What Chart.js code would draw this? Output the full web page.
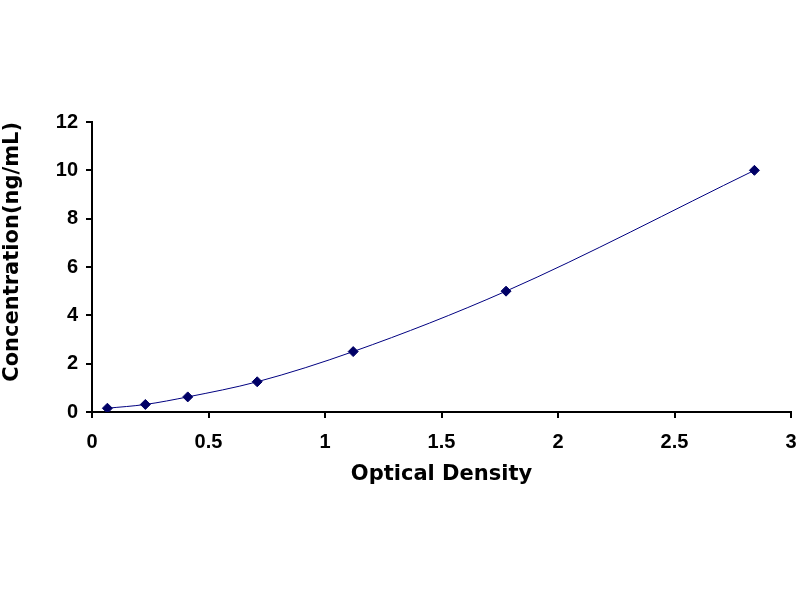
<!DOCTYPE html>
<html>
<head>
<meta charset="utf-8">
<script src="https://cdn.jsdelivr.net/npm/chart.js@4/dist/chart.umd.min.js"></script>
<style>
  html, body { margin: 0; padding: 0; background: #fff; }
  canvas { display: block; }
</style>
</head>
<body>
<canvas id="chart" width="800" height="600"></canvas>
<script>
// standard curve: optical density vs concentration
var od = [0.066, 0.229, 0.411, 0.709, 1.121, 1.777, 2.843];
var conc = [0.156, 0.312, 0.625, 1.25, 2.5, 5, 10];
var xTicks = [0, 0.5, 1, 1.5, 2, 2.5, 3];
var yTicks = [0, 2, 4, 6, 8, 10, 12];

var points = od.map(function (x, i) { return {x: x, y: conc[i]}; });

var tickFont = {family: 'Liberation Sans, Arial, sans-serif', size: 20, weight: 'bold', lineHeight: 1.2};
var titleFont = {family: 'DejaVu Sans, sans-serif', size: 21, weight: 'bold', lineHeight: 1.2};

function plain(v) { return String(v); }

var ctx = document.getElementById('chart').getContext('2d');
var chart = new Chart(ctx, {
    type: 'scatter',
    data: {
        datasets: [{
            data: points,
            showLine: true,
            cubicInterpolationMode: 'monotone',
            borderColor: '#000080',
            borderWidth: 1,
            pointStyle: 'rectRot',
            pointRadius: 5,
            pointBackgroundColor: '#000066',
            pointBorderColor: '#000066',
            pointBorderWidth: 1
        }]
    },
    options: {
        responsive: false,
        animation: false,
        layout: {padding: {top: 122, right: 9, left: 0, bottom: 0}},
        plugins: {
            legend: {display: false},
            tooltip: {enabled: false}
        },
        scales: {
            x: {
                type: 'linear',
                min: 0,
                max: 3,
                afterBuildTicks: function (scale) {
                    scale.ticks = xTicks.map(function (v) { return {value: v}; });
                },
                afterFit: function (scale) {
                    scale.height = 188;
                    scale.paddingLeft = 0;
                    scale.paddingRight = 0;
                },
                border: {display: true, color: '#000', width: 2},
                grid: {drawOnChartArea: false, color: '#000', lineWidth: 2, tickLength: 6},
                ticks: {color: '#000', font: tickFont, padding: 12, maxRotation: 0, callback: plain},
                title: {
                    display: true,
                    text: 'Optical Density',
                    color: '#000',
                    font: titleFont,
                    padding: {top: 0, bottom: 113}
                }
            },
            y: {
                type: 'linear',
                min: 0,
                max: 12,
                afterBuildTicks: function (scale) {
                    scale.ticks = yTicks.map(function (v) { return {value: v}; });
                },
                afterFit: function (scale) { scale.width = 92; },
                border: {display: true, color: '#000', width: 2},
                grid: {drawOnChartArea: false, color: '#000', lineWidth: 2, tickLength: 6},
                ticks: {color: '#000', font: tickFont, padding: 8, callback: plain},
                title: {
                    display: true,
                    text: 'Concentration(ng/mL)',
                    color: '#000',
                    font: titleFont,
                    align: 'end',
                    padding: {top: 0, bottom: 0}
                }
            }
        }
    }
});
</script>
</body>
</html>
